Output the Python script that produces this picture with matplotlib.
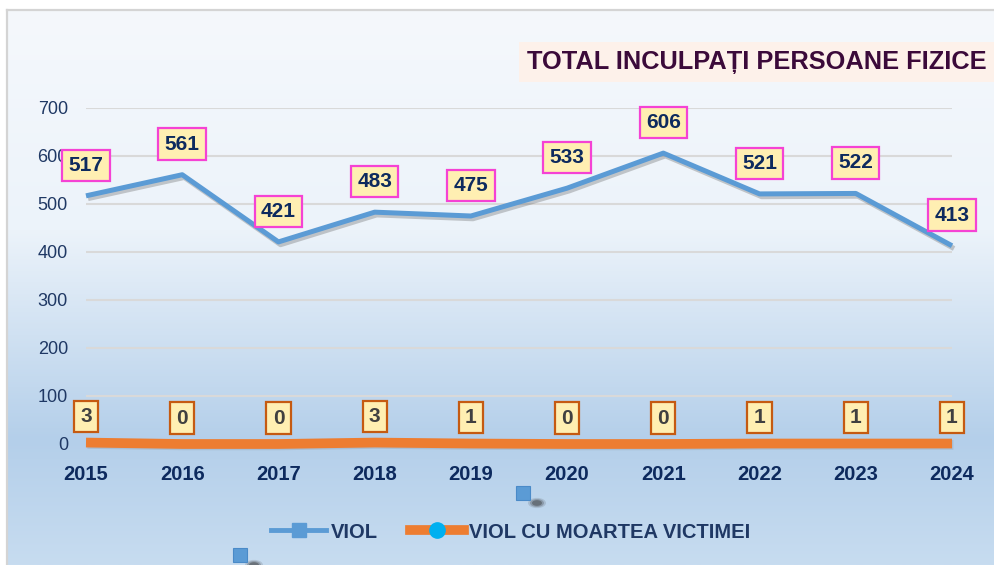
import numpy as np
import matplotlib
matplotlib.use("Agg")
import matplotlib.pyplot as plt
from matplotlib.lines import Line2D
from matplotlib.patches import Rectangle, Circle
import matplotlib.patheffects as pe

plt.rcParams['font.family'] = ['Liberation Sans', 'DejaVu Sans']

# date
years = [2015, 2016, 2017, 2018, 2019, 2020, 2021, 2022, 2023, 2024]
viol = [517, 561, 421, 483, 475, 533, 606, 521, 522, 413]
viol_moarte = [3, 0, 0, 3, 1, 0, 0, 1, 1, 1]
serii = ["VIOL", "VIOL CU MOARTEA VICTIMEI"]
titlu = "TOTAL INCULPAȚI PERSOANE FIZICE"

W, H = 995, 565
fig = plt.figure(figsize=(W / 100, H / 100), dpi=100)
fig.patch.set_facecolor("white")

# fundal cu gradient
bg = fig.add_axes([7 / W, 0, 1 - 7 / W, 555 / H], zorder=-2)
ypx = np.linspace(10, 565, 300)
stops_y = [10, 230, 440, 565]
stops_c = np.array([[245, 248, 252], [236, 243, 250], [180, 207, 234], [199, 220, 240]]) / 255
grad = np.stack([np.interp(ypx, stops_y, stops_c[:, k]) for k in range(3)], axis=-1)
bg.imshow(grad[:, None, :], aspect="auto", extent=[0, 1, 0, 1])
bg.set_xlim(0, 1)
bg.set_ylim(0, 1)
bg.axis("off")

# chenar gri
fig.add_artist(Line2D([7 / W, 7 / W], [0, 555 / H], color="#D4D4D4", lw=1.6))
fig.add_artist(Line2D([7 / W, 1], [555 / H, 555 / H], color="#D4D4D4", lw=1.6))

ax = fig.add_axes([86 / W, 121 / H, 866 / W, 336 / H])
ax.patch.set_alpha(0)
x = np.arange(len(years))

ax.plot(x, viol, color="#5B9BD5", lw=3.6, solid_capstyle="butt", clip_on=False, zorder=3,
        path_effects=[pe.SimpleLineShadow(offset=(1.5, -2), shadow_color="#555555", alpha=0.3),
                      pe.Normal()])
ax.plot(x, viol_moarte, color="#ED7D31", lw=7, solid_capstyle="butt", clip_on=False, zorder=3,
        path_effects=[pe.SimpleLineShadow(offset=(1, -1), shadow_color="#777777", alpha=0.2),
                      pe.Normal()])

ax.set_xlim(0, 9)
ax.set_ylim(0, 700)
ax.set_yticks(range(0, 701, 100))
ax.set_xticks(x)
ax.set_xticklabels([str(y) for y in years])
ax.yaxis.grid(True, color="#D9D9D9", lw=1.5)
ax.set_axisbelow(True)
for s in ax.spines.values():
    s.set_visible(False)
ax.tick_params(axis="y", length=0, pad=13, labelsize=13, labelcolor="#1F3864")
ax.tick_params(axis="x", length=0, pad=15, labelsize=14.5, labelcolor="#0D2A5E")
for t in ax.get_xticklabels():
    t.set_fontweight("bold")

for i, v in enumerate(viol):
    ax.annotate(str(v), (i, v), xytext=(0, 22), textcoords="offset points",
                ha="center", va="center", fontsize=15, fontweight="bold", color="#0D2A5E",
                bbox=dict(boxstyle="square,pad=0.3", fc="#FFEFB2", ec="#F542D4", lw=1.6),
                annotation_clip=False, zorder=6)

for i, v in enumerate(viol_moarte):
    ax.annotate(str(v), (i, v), xytext=(0, 18.6), textcoords="offset points",
                ha="center", va="center", fontsize=15, fontweight="bold", color="#404040",
                bbox=dict(boxstyle="square,pad=0.3", fc="#FFEFB2", ec="#C55A11", lw=1.6),
                annotation_clip=False, zorder=6)

# titlu
fig.text(527 / W, 1 - 62 / H, titlu, fontsize=18.3, fontweight="bold",
         color="#3B0A3A", va="center", ha="left",
         bbox=dict(boxstyle="square,pad=0.32", fc="#FDF1EA", ec="none"))

# legenda
handles = [
    Line2D([], [], color="#5B9BD5", lw=3.5, marker="s", markersize=10,
           markerfacecolor="#5B9BD5", markeredgecolor="#5B9BD5"),
    Line2D([], [], color="#ED7D31", lw=7, marker="o", markersize=11,
           markerfacecolor="#00B0F0", markeredgecolor="#00B0F0"),
]
leg = fig.legend(handles, serii, loc="center", bbox_to_anchor=(511 / W, 1 - 532 / H), ncol=2,
                 frameon=False, handlelength=2.7, handletextpad=0.25, columnspacing=1.6,
                 prop={"weight": "bold", "size": 14.5})
for t in leg.get_texts():
    t.set_color("#1F3864")

# markere ratacite (artefacte din imagine)
for cx, cy in [(523, 493), (240, 555)]:
    for r, a in [(9, 0.15), (7, 0.25), (5, 0.4)]:
        fig.add_artist(Circle(((cx + 14) / W, 1 - (cy + 10) / H), r / W, color="#333333",
                              alpha=a, lw=0, transform=fig.transFigure))
    fig.add_artist(Rectangle(((cx - 7) / W, 1 - (cy + 7) / H), 14 / W, 14 / H,
                             fc="#5B9BD5", ec="#4A8AC8", lw=0.8, transform=fig.transFigure))

fig.savefig("out.png", dpi=100)
